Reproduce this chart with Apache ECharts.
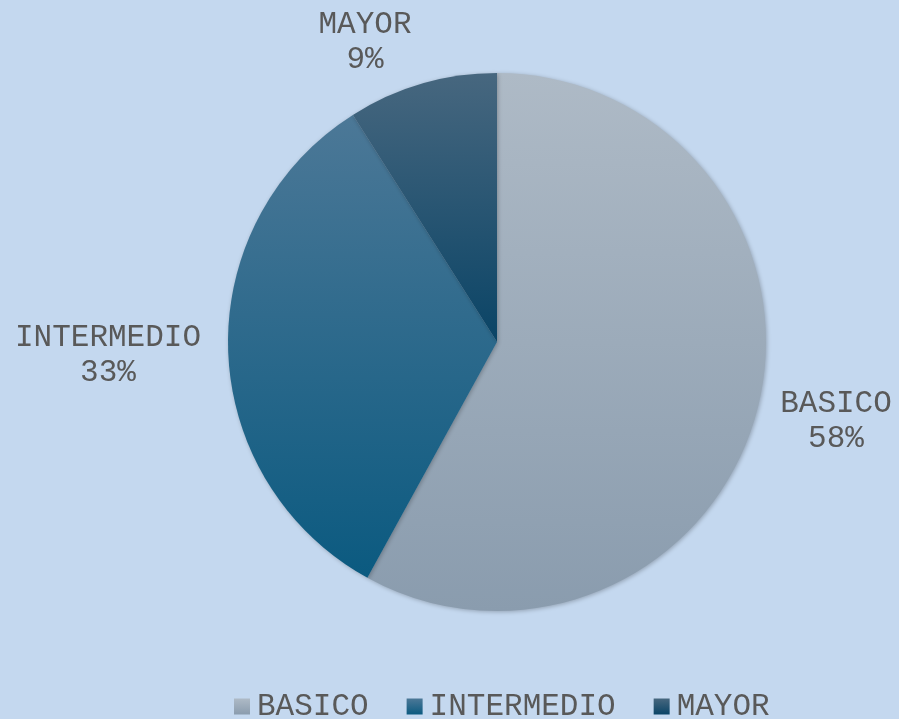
<!DOCTYPE html>
<html>
<head>
<meta charset="utf-8">
<script src="https://cdn.jsdelivr.net/npm/echarts@6/dist/echarts.min.js"></script>
<style>
  html, body { margin: 0; padding: 0; background: #c4d8ef; }
  #grafica { width: 899px; height: 719px; }
</style>
</head>
<body>
<div id="grafica"></div>
<script>
// Datos
var categorias = ['BASICO', 'INTERMEDIO', 'MAYOR'];
var porcentajes = [58, 33, 9];

// Colores de cada porcion (degradado vertical)
var colores = [
	['#aebac6', '#8a9cae'],
	['#4c7897', '#0b5a80'],
	['#47677f', '#0a4466']
];

// Posicion de las etiquetas
var posEtiquetas = [[836, 421], [108, 355], [365, 42]];

var fuente = '"Liberation Mono", "Courier New", monospace';

var grafica = echarts.init(document.getElementById('grafica'));

var datos = categorias.map(function (nombre, i) {
	return {
		name: nombre,
		value: porcentajes[i],
		itemStyle: {
			color: new echarts.graphic.LinearGradient(0, 0, 0, 1, [
				{ offset: 0, color: colores[i][0] },
				{ offset: 1, color: colores[i][1] }
			])
		}
	};
});

var option = {
	backgroundColor: '#c4d8ef',
	textStyle: {
		fontFamily: fuente
	},
	animation: false,

	// Leyenda
	legend: {
		data: categorias,
		top: 686,
		left: 229,
		itemWidth: 16,
		itemHeight: 16,
		itemGap: 38,
		icon: 'rect',
		textStyle: {
			fontFamily: fuente,
			fontSize: 31,
			color: '#595959',
			padding: [0, 0, 0, 2]
		}
	},

	series: [
		{
			name: 'Nivel',
			type: 'pie',
			center: [497, 342],
			radius: 269,
			startAngle: 90,
			clockwise: true,
			data: datos,
			itemStyle: {
				shadowBlur: 4,
				shadowColor: 'rgba(0,0,0,0.25)',
				shadowOffsetX: 1,
				shadowOffsetY: 1
			},
			label: {
				show: true,
				position: 'outside',
				formatter: '{b}\n{d}%',
				fontFamily: fuente,
				fontSize: 31,
				lineHeight: 35,
				color: '#595959',
				align: 'center',
				overflow: 'none'
			},
			labelLine: {
				show: false
			},
			labelLayout: function (params) {
				var p = posEtiquetas[params.dataIndex];
				return {
					x: p[0],
					y: p[1],
					align: 'center',
					verticalAlign: 'middle'
				};
			},
			emphasis: {
				disabled: true
			}
		}
	]
};

grafica.setOption(option);
</script>
</body>
</html>
